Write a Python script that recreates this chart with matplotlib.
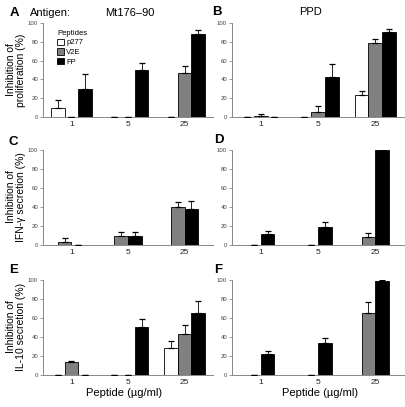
import numpy as np
import matplotlib
matplotlib.use("Agg")
import matplotlib.pyplot as plt
from matplotlib.patches import Patch

plt.rcParams['font.family'] = ['Liberation Sans', 'DejaVu Sans']

doses = ["1", "5", "25"]
series = ["p277", "V2E", "FP"]
colors = {"p277": "white", "V2E": "#808080", "FP": "black"}

# Panel A: Mt176-90, proliferation
A_vals = {"p277": [10, 0, 0], "V2E": [0, 0, 47], "FP": [30, 50, 88]}
A_errs = {"p277": [8, 0, 0], "V2E": [0, 0, 7], "FP": [16, 7, 4.5]}
# Panel B: PPD, proliferation
B_vals = {"p277": [0, 0, 23], "V2E": [1, 5, 79], "FP": [0, 43, 90.5]}
B_errs = {"p277": [0, 0, 5], "V2E": [2, 6.5, 4], "FP": [0, 13, 3.5]}
# Panel C: Mt176-90, IFN-gamma
C_vals = {"V2E": [3, 10, 39.5], "FP": [0, 9.5, 38]}
C_errs = {"V2E": [4.5, 3.5, 5.5], "FP": [0, 4, 8]}
# Panel D: PPD, IFN-gamma
D_vals = {"V2E": [0, 0, 8], "FP": [11.7, 19, 100]}
D_errs = {"V2E": [0, 0, 5], "FP": [3.5, 5, 1]}
# Panel E: Mt176-90, IL-10
E_vals = {"p277": [0, 0, 28.5], "V2E": [13.3, 0, 43], "FP": [0, 51, 65.5]}
E_errs = {"p277": [0, 0, 7], "V2E": [1.7, 0, 9.5], "FP": [0, 8, 12]}
# Panel F: PPD, IL-10
F_vals = {"V2E": [0, 0, 65], "FP": [22, 33.3, 99.3]}
F_errs = {"V2E": [0, 0, 11.5], "FP": [3, 6, 1]}

W, H = 405, 407
fig = plt.figure(figsize=(W / 100, H / 100), dpi=100)

def ax_at(left, top, right, bottom):
    return fig.add_axes([left / W, 1 - bottom / H, (right - left) / W, (bottom - top) / H])

axA = ax_at(43, 23, 213, 117)
axB = ax_at(232, 23, 404, 117)
axC = ax_at(43, 150, 213, 245)
axD = ax_at(232, 150, 404, 245)
axE = ax_at(43, 280, 213, 375)
axF = ax_at(232, 280, 404, 375)

bw = 0.24
x = np.arange(len(doses))

def draw(ax, vals, errs):
    keys = [k for k in series if k in vals]
    n = len(keys)
    offs = (np.arange(n) - (n - 1) / 2) * bw
    for off, k in zip(offs, keys):
        v = np.array(vals[k], dtype=float)
        e = np.array(errs[k], dtype=float)
        ax.bar(x + off, v, width=bw, color=colors[k], edgecolor="black", linewidth=0.6, zorder=2)
        ax.errorbar(x + off, v, yerr=[np.zeros_like(e), e], fmt="none", ecolor="black",
                    elinewidth=0.6, capsize=2, capthick=0.9, zorder=3)
    ax.set_xlim(-0.5, len(doses) - 0.5)
    ax.set_ylim(0, 100)
    ax.set_xticks(x)
    ax.set_xticklabels(doses)
    ax.set_yticks([0, 20, 40, 60, 80, 100])
    for s in ["top", "right"]:
        ax.spines[s].set_visible(False)
    for s in ["left", "bottom"]:
        ax.spines[s].set_linewidth(0.7)
        ax.spines[s].set_color("#888888")
        ax.spines[s].set_zorder(1)
    ax.tick_params(axis="x", length=0, labelsize=6, pad=3, labelcolor="#222222")
    ax.tick_params(axis="y", length=2, width=0.6, color="#888888", labelsize=4.3, pad=1.5,
                   labelcolor="#444444")

draw(axA, A_vals, A_errs)
draw(axB, B_vals, B_errs)
draw(axC, C_vals, C_errs)
draw(axD, D_vals, D_errs)
draw(axE, E_vals, E_errs)
draw(axF, F_vals, F_errs)

handles = [Patch(facecolor=colors[k], edgecolor="black", linewidth=0.6) for k in series]
leg = axA.legend(handles, series, title="Peptides", loc="upper left",
                 bbox_to_anchor=(0.06, 0.97), frameon=False, fontsize=5.5,
                 title_fontsize=5.5, handlelength=0.9, handleheight=0.9,
                 handletextpad=0.3, labelspacing=0.25, borderpad=0, alignment="left")

def ftext(px, py, s, **kw):
    fig.text(px / W, 1 - py / H, s, **kw)

# Panel letters
for letter, px, py in [("A", 14, 13), ("B", 217, 12), ("C", 13, 142),
                       ("D", 219, 140), ("E", 14, 270), ("F", 218, 270)]:
    ftext(px, py, letter, fontsize=9.5, fontweight="bold", ha="center", va="center")

ftext(30, 13, "Antigen:", fontsize=8, ha="left", va="center")
ftext(130, 13, "Mt176–90", fontsize=8, ha="center", va="center")
ftext(310, 12, "PPD", fontsize=8, ha="center", va="center")

# Y labels
ftext(16, 70, "Inhibition of\nproliferation (%)", fontsize=7.5, rotation=90,
      ha="center", va="center", multialignment="center", linespacing=1.0)
ftext(16, 197, "Inhibition of\nIFN-γ secretion (%)", fontsize=7.5, rotation=90,
      ha="center", va="center", multialignment="center", linespacing=1.0)
ftext(16, 327, "Inhibition of\nIL-10 secretion (%)", fontsize=7.5, rotation=90,
      ha="center", va="center", multialignment="center", linespacing=1.0)

# X labels
ftext(124, 393, "Peptide (µg/ml)", fontsize=8, ha="center", va="center")
ftext(320, 393, "Peptide (µg/ml)", fontsize=8, ha="center", va="center")

fig.savefig("out.png", dpi=100)
